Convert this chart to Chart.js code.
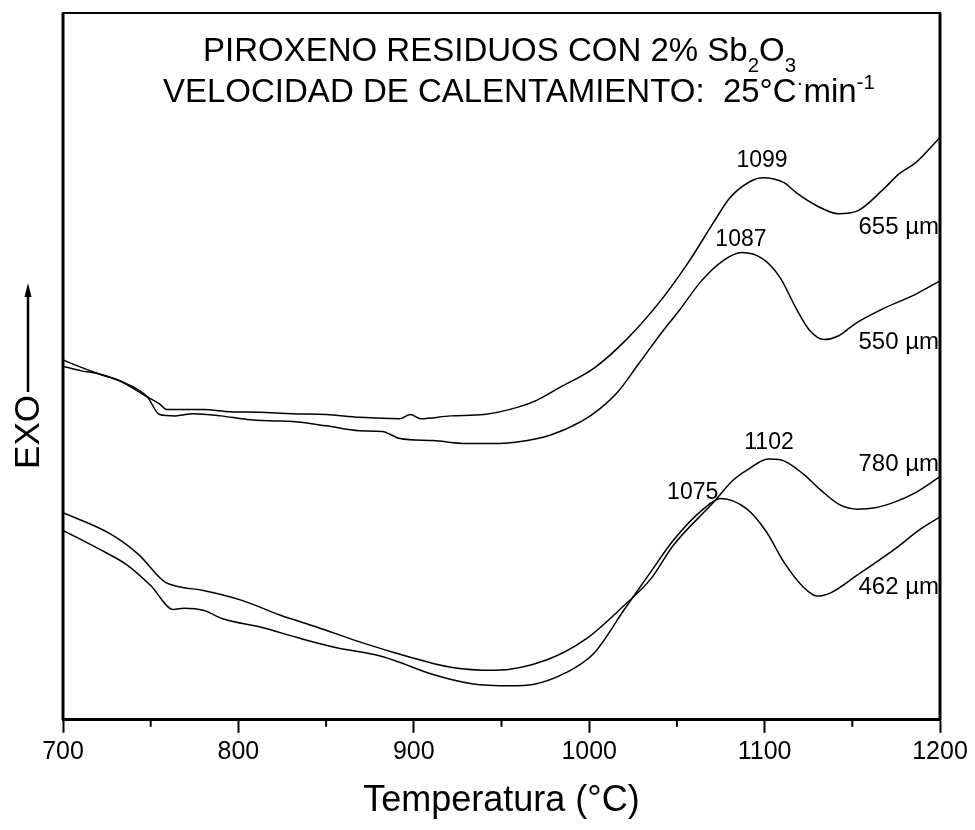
<!DOCTYPE html>
<html><head><meta charset="utf-8">
<script src="https://cdn.jsdelivr.net/npm/chart.js@4/dist/chart.umd.min.js"></script>
<style>html,body{margin:0;padding:0;background:#fff}canvas{display:block}</style>
</head><body>
<canvas id="c" width="975" height="830"></canvas>
<script>
// ---- data (temperature °C, signal in arbitrary units) ----
const seriesNames = ['655 µm', '550 µm', '780 µm', '462 µm'];

const temp655 = [700,710,721,732,748,755,759,770,780,795,812,831,850,869,892,898,904,921,940,959,970,983,1003,1022,1042,1057,1071,1080,1092,1099,1111,1118,1130,1142,1153,1167,1177,1186,1200];
const val655  = [50.9,49.9,48.9,48.0,45.7,44.7,43.9,43.9,43.9,43.6,43.5,43.3,43.2,42.8,42.6,43.2,42.6,43.0,43.2,44.2,45.2,47.0,49.8,54.0,59.7,64.9,70.4,73.8,76.2,76.7,76.0,74.6,72.7,71.6,72.0,74.9,77.3,78.8,82.4];

const temp550 = [700,710,721,732,748,755,764,774,790,805,818,831,850,869,882,892,911,930,949,959,978,996,1006,1016,1028,1042,1051,1064,1076,1087,1099,1109,1118,1126,1134,1142,1152,1167,1186,1200];
const val550  = [50.0,49.4,48.9,48.0,45.7,43.2,43.0,43.3,43.0,42.5,42.3,42.2,41.6,40.9,40.8,39.8,39.5,39.1,39.1,39.3,40.3,42.3,44.0,46.3,50.3,55.0,57.8,62.1,64.9,66.1,65.2,62.5,58.2,55.0,53.8,54.3,56.1,58.1,60.2,62.1];

const temp780 = [700,727,743,758,767,780,802,824,845,867,889,922,946,976,998,1020,1035,1048,1071,1082,1091,1102,1109,1122,1132,1143,1153,1163,1174,1185,1200];
const val780  = [29.3,26.3,23.4,19.5,18.8,18.3,16.9,14.8,13.1,11.2,9.5,7.4,7.0,8.5,11.4,16.2,19.9,24.7,30.8,33.9,35.5,36.9,36.8,34.8,32.5,30.4,29.8,30.0,30.8,32.0,34.4];

const temp462 = [700,721,736,750,763,769,780,791,813,834,856,878,889,911,933,955,968,987,1003,1020,1035,1048,1065,1075,1090,1101,1111,1122,1130,1138,1153,1174,1189,1200];
const val462  = [26.8,24.1,22.0,19.0,15.6,15.8,15.5,14.3,13.1,11.6,10.2,9.2,8.4,6.4,5.1,4.8,5.0,6.7,9.5,15.6,20.9,25.4,29.8,31.3,29.8,26.6,22.3,18.8,17.5,18.0,20.5,24.1,27.0,28.7];

const peakLabels = ['1099', '1087', '1102', '1075'];
const xMajorTicks = [700, 800, 900, 1000, 1100, 1200];
const xMinorTicks = [750, 850, 950, 1050, 1150];

// ---- build datasets ----
function pts(xs, ys) { return xs.map((x, i) => ({ x: x, y: ys[i] })); }
const seriesData = [pts(temp655, val655), pts(temp550, val550), pts(temp780, val780), pts(temp462, val462)];

// annotation anchors (data coordinates)
const annot = {
  peaks: [
    { text: peakLabels[0], x: 1098.5, y: 79.1 },
    { text: peakLabels[1], x: 1086.5, y: 68.0 },
    { text: peakLabels[2], x: 1102.5, y: 39.2 },
    { text: peakLabels[3], x: 1059, y: 32.2 }
  ],
  series: [
    { text: seriesNames[0], x: 1200, y: 69.7 },
    { text: seriesNames[1], x: 1200, y: 53.4 },
    { text: seriesNames[2], x: 1200, y: 36.2 },
    { text: seriesNames[3], x: 1200, y: 18.8 }
  ]
};

const FONT = "'Liberation Sans', Arial, sans-serif";

function drawRuns(ctx, runs, x, baseline, size) {
  let cx = x;
  runs.forEach(r => {
    const s = r.sub || r.sup ? size * 0.62 : size;
    ctx.font = s + 'px ' + FONT;
    let y = baseline;
    if (r.sub) y += size * 0.32;
    if (r.sup) y -= size * 0.38;
    ctx.fillText(r.t, cx, y);
    cx += ctx.measureText(r.t).width;
  });
}

const decorPlugin = {
  id: 'decor',
  afterDraw(chart) {
    const ctx = chart.ctx, a = chart.chartArea;
    const xs = chart.scales.x, ys = chart.scales.y;
    ctx.save();
    ctx.fillStyle = '#000';
    ctx.strokeStyle = '#000';
    // frame
    ctx.lineWidth = 3;
    ctx.beginPath();
    ctx.moveTo(a.left, a.bottom); ctx.lineTo(a.left, a.top);
    ctx.moveTo(a.right, a.bottom); ctx.lineTo(a.right, a.top);
    ctx.stroke();
    ctx.lineWidth = 2;
    ctx.beginPath();
    ctx.moveTo(a.left - 1, a.top); ctx.lineTo(a.right + 1, a.top);
    ctx.stroke();
    // minor ticks
    ctx.lineWidth = 2;
    xMinorTicks.forEach(t => {
      const px = xs.getPixelForValue(t);
      ctx.beginPath(); ctx.moveTo(px, a.bottom); ctx.lineTo(px, a.bottom + 7); ctx.stroke();
    });
    // title
    ctx.textBaseline = 'alphabetic';
    ctx.textAlign = 'left';
    drawRuns(ctx, [{ t: 'PIROXENO RESIDUOS CON 2% Sb' }, { t: '2', sub: true }, { t: 'O' }, { t: '3', sub: true }], a.left + 140, 61, 33);
    drawRuns(ctx, [{ t: 'VELOCIDAD DE CALENTAMIENTO:  25°C' }, { t: '·', sup: true }, { t: 'min' }, { t: '-1', sup: true }], a.left + 100, 102, 33);
    // peak labels
    ctx.font = '23px ' + FONT;
    ctx.textAlign = 'center';
    ctx.textBaseline = 'middle';
    annot.peaks.forEach(p => ctx.fillText(p.text, xs.getPixelForValue(p.x), ys.getPixelForValue(p.y)));
    // series labels
    ctx.font = '24px ' + FONT;
    ctx.textAlign = 'right';
    annot.series.forEach(p => ctx.fillText(p.text, xs.getPixelForValue(p.x) - 1, ys.getPixelForValue(p.y)));
    // EXO label with arrow
    ctx.save();
    ctx.translate(27, 432);
    ctx.rotate(-Math.PI / 2);
    ctx.font = '35px ' + FONT;
    ctx.textAlign = 'center';
    ctx.textBaseline = 'middle';
    ctx.fillText('EXO', 0, 2);
    ctx.restore();
    ctx.lineWidth = 2.5;
    ctx.beginPath(); ctx.moveTo(28, 392); ctx.lineTo(28, 292); ctx.stroke();
    ctx.beginPath(); ctx.moveTo(28, 283); ctx.lineTo(24.5, 297); ctx.lineTo(31.5, 297); ctx.closePath(); ctx.fill();
    ctx.restore();
  }
};

new Chart(document.getElementById('c'), {
  type: 'line',
  data: {
    datasets: seriesData.map((d, i) => ({
      label: seriesNames[i],
      data: d,
      borderColor: '#000',
      borderWidth: 1.5,
      pointRadius: 0,
      fill: false,
      cubicInterpolationMode: 'monotone'
    }))
  },
  options: {
    responsive: false,
    animation: false,
    events: [],
    layout: { padding: { left: 63, right: 35, top: 13, bottom: 7 } },
    plugins: { legend: { display: false }, tooltip: { enabled: false }, title: { display: false } },
    scales: {
      x: {
        type: 'linear', min: 700, max: 1200,
        afterBuildTicks: s => { s.ticks = xMajorTicks.map(v => ({ value: v })); },
        ticks: { color: '#000', font: { family: FONT, size: 25 }, padding: 4, maxRotation: 0, callback: v => String(v) },
        grid: { drawOnChartArea: false, drawTicks: true, tickLength: 13, tickColor: '#000', tickWidth: 2 },
        border: { display: true, color: '#000', width: 3 },
        title: { display: true, text: 'Temperatura (°C)', color: '#000', font: { family: FONT, size: 36 }, padding: { top: 9, bottom: 0 } }
      },
      y: { display: false, min: 0, max: 100 }
    }
  },
  plugins: [decorPlugin]
});
</script>
</body></html>
